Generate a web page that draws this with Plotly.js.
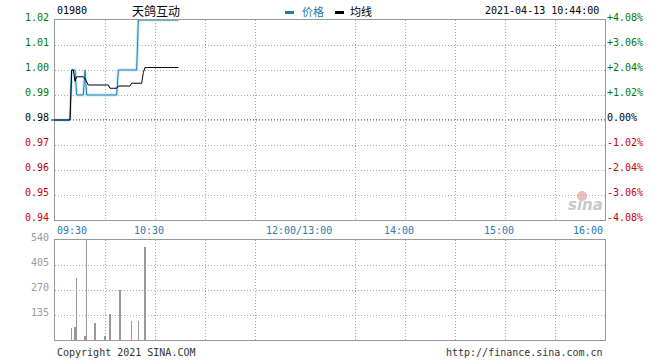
<!DOCTYPE html>
<html><head><meta charset="utf-8">
<script src="https://cdn.plot.ly/plotly-3.0.1.min.js"></script>
<style>body{margin:0;background:#fff}#chart{width:660px;height:360px}</style>
</head><body><div id="chart"></div>
<script>
const stockCode = "01980";
const stockName = "天鸽互动";
const stamp = "2021-04-13 10:44:00";
const tradeDate = "2021-04-13";
const prevClose = 0.98;
const legendNames = ["价格", "均线"];
const copyrightText = "Copyright 2021 SINA.COM";
const siteText = "http://finance.sina.com.cn";

// minute-by-minute times 09:30 .. 10:44
const times = [
 "09:30","09:31","09:32","09:33","09:34","09:35","09:36","09:37","09:38","09:39",
 "09:40","09:41","09:42","09:43","09:44","09:45","09:46","09:47","09:48","09:49",
 "09:50","09:51","09:52","09:53","09:54","09:55","09:56","09:57","09:58","09:59",
 "10:00","10:01","10:02","10:03","10:04","10:05","10:06","10:07","10:08","10:09",
 "10:10","10:11","10:12","10:13","10:14","10:15","10:16","10:17","10:18","10:19",
 "10:20","10:21","10:22","10:23","10:24","10:25","10:26","10:27","10:28","10:29",
 "10:30","10:31","10:32","10:33","10:34","10:35","10:36","10:37","10:38","10:39",
 "10:40","10:41","10:42","10:43","10:44"];
const price = [
 0.98,0.98,0.98,0.98,0.98,0.98,0.98,0.98,0.98,0.98,
 1.00,1.00,1.00,0.99,0.99,0.99,0.99,0.99,1.00,0.99,
 0.99,0.99,0.99,0.99,0.99,0.99,0.99,0.99,0.99,0.99,
 0.99,0.99,0.99,0.99,0.99,0.99,0.99,0.99,1.00,1.00,
 1.00,1.00,1.00,1.00,1.00,1.00,1.00,1.00,1.00,1.00,
 1.02,1.02,1.02,1.02,1.02,1.02,1.02,1.02,1.02,1.02,
 1.02,1.02,1.02,1.02,1.02,1.02,1.02,1.02,1.02,1.02,
 1.02,1.02,1.02,1.02,1.02];
const avgPrice = [
 0.98,0.98,0.98,0.98,0.98,0.98,0.98,0.98,0.98,0.98,
 1.000,1.000,0.9955,0.9973,0.9973,0.9973,0.9973,0.9973,0.9965,0.9950,
 0.9940,0.9940,0.9940,0.9940,0.9940,0.9940,0.9940,0.9940,0.9940,0.9940,
 0.9940,0.9940,0.9940,0.9927,0.9927,0.9927,0.9927,0.9927,0.9936,0.9936,
 0.9936,0.9936,0.9936,0.9936,0.9936,0.9936,0.9947,0.9947,0.9947,0.9947,
 0.9947,0.9947,0.9947,0.9990,1.0010,1.0010,1.0010,1.0010,1.0010,1.0010,
 1.0010,1.0010,1.0010,1.0010,1.0010,1.0010,1.0010,1.0010,1.0010,1.0010,
 1.0010,1.0010,1.0010,1.0010,1.0010];
const volTimes = ["09:40","09:42","09:43","09:48","09:49","09:54","10:00","10:03","10:09","10:16","10:20","10:24"];
const volumes  = [65, 70, 337, 22, 560, 92, 22, 140, 270, 103, 103, 502];

const priceTicks = [0.94,0.95,0.96,0.97,0.98,0.99,1.00,1.01,1.02];
const volTicks = [135,270,405,540];
const gridTimes = ["09:30","10:00","10:30","11:00","11:30","12:00","13:30","14:00","14:30","15:00","15:30","16:00"];
const axisLabels = ["09:30","10:30","12:00/13:00","14:00","15:00","16:00"];
const axisLabelTimes = ["09:30","10:30","12:00","14:00","15:00","16:00"];

const UP = "#007a00", DOWN = "#cc0000", FLAT = "#000000";
const BLUE = "#2a78b0";
const MONO = "DejaVu Sans Mono, monospace";
const CJK = "Noto Sans CJK SC, sans-serif";
const d = t => tradeDate + " " + t;

function colorFor(v){ return Math.abs(v-prevClose)<1e-9 ? FLAT : (v>prevClose ? UP : DOWN); }
const leftText = priceTicks.map(v => `<span style="color:${colorFor(v)}">${v.toFixed(2)}</span>`);
const rightText = priceTicks.map(v => {
  const p = (v-prevClose)/prevClose*100;
  const s = Math.abs(p)<1e-9 ? "0.00%" : (p>0?"+":"") + p.toFixed(2) + "%";
  return `<span style="color:${colorFor(v)}">${s}</span>`;
});

const xs = times.map(d);
const traces = [
  {x: xs, y: price, type:"scatter", mode:"lines", line:{color:"#c4ecf6", width:3}, hoverinfo:"skip", xaxis:"x", yaxis:"y", showlegend:false},
  {x: xs, y: price, type:"scatter", mode:"lines", line:{color:BLUE, width:1}, name:legendNames[0], xaxis:"x", yaxis:"y", showlegend:false},
  {x: xs, y: avgPrice, type:"scatter", mode:"lines", line:{color:"#000", width:1}, name:legendNames[1], xaxis:"x", yaxis:"y", showlegend:false},
  {x: volTimes.map(d), y: volumes, type:"bar", width:40000, marker:{color:"#999", line:{width:0}}, xaxis:"x2", yaxis:"y3", showlegend:false},
  {x: [xs[0]], y: [prevClose], type:"scatter", mode:"lines", xaxis:"x", yaxis:"y2", showlegend:false, hoverinfo:"skip", line:{width:0}}
];

const xCommon = {
  type:"date",
  range:[d("09:30"), d("16:00")],
  rangebreaks:[{bounds:[12,13], pattern:"hour"}],
  tickmode:"array", tickvals: gridTimes.map(d), showticklabels:false, ticks:"",
  showgrid:true, gridcolor:"#aaa", griddash:"1px,2px", gridwidth:1,
  showline:true, mirror:true, linecolor:"#999", linewidth:1, zeroline:false, fixedrange:true
};

const layout = {
  width:660, height:360,
  margin:{l:55, r:55, t:20, b:20},
  paper_bgcolor:"#fff", plot_bgcolor:"#fff",
  showlegend:false, bargap:0,
  font:{family:MONO, size:10, color:"#000"},
  xaxis: Object.assign({}, xCommon, {domain:[0,1], anchor:"y"}),
  xaxis2: Object.assign({}, xCommon, {domain:[0,1], anchor:"y3", matches:"x"}),
  yaxis: {domain:[0.375,1], range:[0.94,1.02], tickmode:"array", tickvals:priceTicks, ticktext:leftText,
          showgrid:true, gridcolor:"#aaa", griddash:"1px,2px", showline:true, mirror:true, linecolor:"#999",
          zeroline:false, ticks:"", ticklabelstandoff:3, ticklabelshift:-3, tickfont:{family:MONO,size:10}, fixedrange:true},
  yaxis2: {overlaying:"y", side:"right", range:[0.94,1.02], tickmode:"array", tickvals:priceTicks, ticktext:rightText,
          showgrid:false, showline:false, zeroline:false, ticks:"", ticklabelstandoff:1, ticklabelshift:-3,
          tickfont:{family:MONO,size:10}, fixedrange:true},
  yaxis3: {domain:[0,0.3125], range:[0,540], tickmode:"array", tickvals:volTicks, ticktext:volTicks.map(String),
          showgrid:true, gridcolor:"#aaa", griddash:"1px,2px", showline:true, mirror:true, linecolor:"#999",
          zeroline:false, ticks:"", ticklabelstandoff:3, ticklabelshift:-3, tickfont:{family:MONO,size:10,color:"#999"}, fixedrange:true},
  shapes:[
    {type:"line", xref:"paper", yref:"y", x0:0, x1:1, y0:prevClose, y1:prevClose, line:{color:"#000", width:1, dash:"1px,2px"}, layer:"below"},
    {type:"line", xref:"paper", yref:"y", x0:-0.007, x1:0, y0:prevClose, y1:prevClose, line:{color:"#000", width:1}},
    {type:"rect", xref:"paper", yref:"paper", x0:(285-55)/550, x1:(294-55)/550, y0:(340-14)/320, y1:(340-11)/320, fillcolor:BLUE, line:{width:0}},
    {type:"rect", xref:"paper", yref:"paper", x0:(335-55)/550, x1:(344-55)/550, y0:(340-14)/320, y1:(340-11)/320, fillcolor:"#000", line:{width:0}},
    {type:"circle", xref:"paper", yref:"paper", x0:(577-55)/550, x1:(587-55)/550, y0:(340-201)/320, y1:(340-191)/320, fillcolor:"#f3b8b8", line:{width:0}, layer:"below"}
  ],
  annotations:[
    {text:stockCode, xref:"paper", yref:"paper", x:0, y:(340-10)/320, xanchor:"left", yanchor:"middle", showarrow:false, font:{family:MONO,size:10,color:"#000"}},
    {text:stockName, xref:"paper", yref:"paper", x:(130-55)/550, y:(340-10)/320, xanchor:"left", yanchor:"middle", showarrow:false, font:{family:CJK,size:12,color:"#000"}},
    {text:legendNames[0], xref:"paper", yref:"paper", x:(300-55)/550, y:(340-11)/320, xanchor:"left", yanchor:"middle", showarrow:false, font:{family:CJK,size:11,color:BLUE}},
    {text:legendNames[1], xref:"paper", yref:"paper", x:(348-55)/550, y:(340-11)/320, xanchor:"left", yanchor:"middle", showarrow:false, font:{family:CJK,size:11,color:"#000"}},
    {text:stamp, xref:"paper", yref:"paper", x:(601-55)/550, y:(340-10)/320, xanchor:"right", yanchor:"middle", showarrow:false, font:{family:MONO,size:10,color:"#000"}},
    {text:copyrightText, xref:"paper", yref:"paper", x:0, y:(340-352)/320, xanchor:"left", yanchor:"middle", showarrow:false, font:{family:MONO,size:10,color:"#333"}},
    {text:siteText, xref:"paper", yref:"paper", x:1, y:(340-352)/320, xanchor:"right", yanchor:"middle", showarrow:false, font:{family:MONO,size:10,color:"#333"}},
    {text:"<b><i>sina</i></b>", xref:"paper", yref:"paper", x:(585-55)/550, y:(340-205)/320, xanchor:"center", yanchor:"middle", showarrow:false, font:{family:"DejaVu Sans, sans-serif",size:15,color:"#c8c8c8"}}
  ].concat(axisLabels.map((lab,i) => ({
    text:lab, xref:"x", yref:"paper", x:d(axisLabelTimes[i]), y:(340-230)/320,
    xanchor: i===0 ? "left" : (i===axisLabels.length-1 ? "right" : "center"),
    xshift: (i===0 || i===axisLabels.length-1) ? 0 : -6,
    yanchor:"middle", showarrow:false, font:{family:MONO,size:10,color:BLUE}
  })))
};

Plotly.newPlot("chart", traces, layout, {staticPlot:true, displayModeBar:false});
</script>
</body></html>
